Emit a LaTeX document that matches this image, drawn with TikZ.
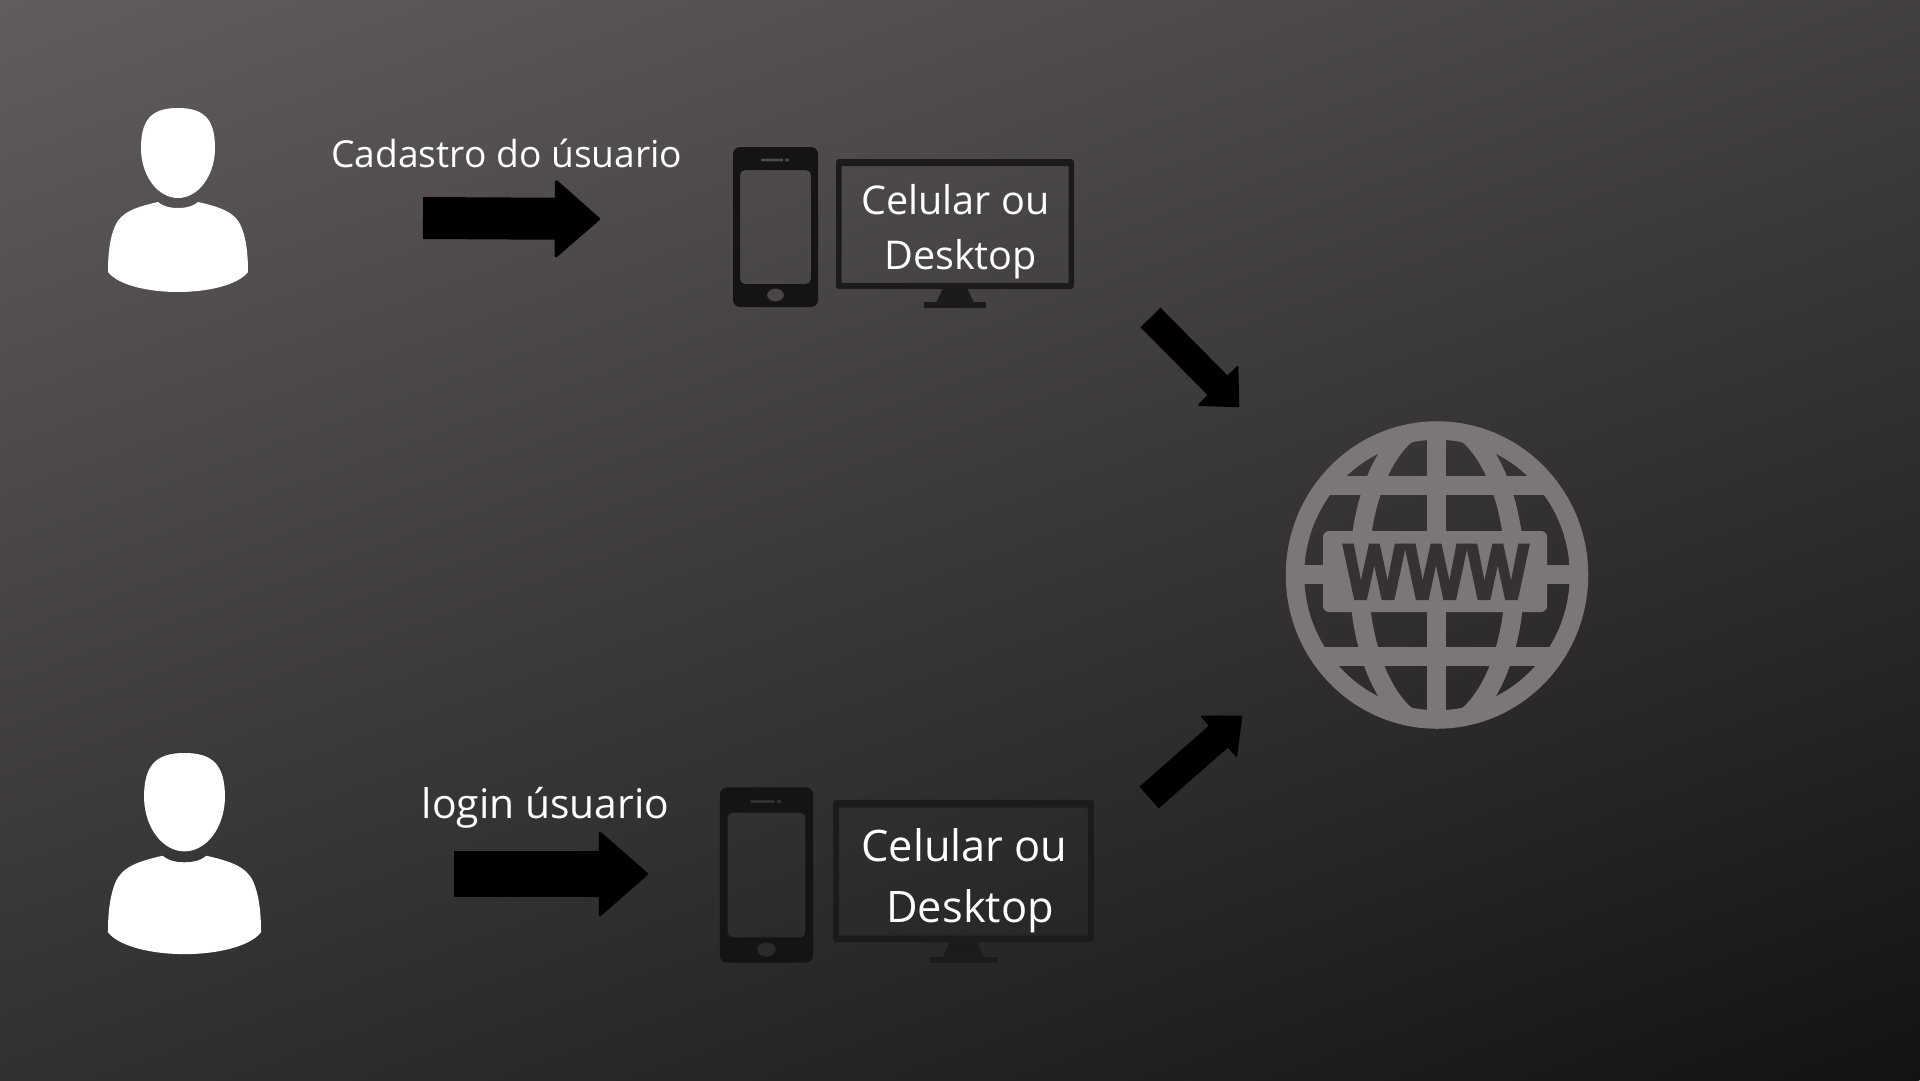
\documentclass[tikz,border=0pt]{standalone}
\usepackage{fontspec}
\setmainfont{Open Sans}
\usetikzlibrary{arrows.meta}
\pgfdeclarelayer{bg}
\pgfsetlayers{bg,main}
\definecolor{bgTop}{HTML}{615D5C}
\definecolor{bgBot}{HTML}{141313}
\definecolor{phoneDark}{HTML}{151313}
\definecolor{screenDark}{HTML}{1C1A1A}
\definecolor{globeGrey}{HTML}{7C7776}
\definecolor{wwwDark}{HTML}{353231}
\tikzset{
	caption/.style={text=white,inner sep=0pt,anchor=base},
	devicetext/.style={caption,align=center},
	bigarrow/.style={draw=black,line join=round},
	person/.pic={
		\fill[white] (-37,40) .. controls (-37,10) and (-25,0) .. (0,0) .. controls (25,0) and (37,10) .. (37,40) .. controls (37,68) and (20,90) .. (0,90) .. controls (-20,90) and (-37,68) .. (-37,40) -- cycle;
		\fill[white] (-20,94) .. controls (-14,99) and (-7,100) .. (0,100) .. controls (7,100) and (14,99) .. (20,94) .. controls (42,99) and (57,104) .. (63,118) .. controls (69,132) and (70,150) .. (70,164) .. controls (60,177) and (30,184) .. (0,184) .. controls (-30,184) and (-60,177) .. (-70,164) .. controls (-70,150) and (-69,132) .. (-63,118) .. controls (-57,104) and (-42,99) .. (-20,94) -- cycle;
	},
	phone/.pic={
		\fill[phoneDark,even odd rule] [rounded corners=7pt] (-42.5,-80) rectangle (42.5,80) [rounded corners=5pt] (-35.5,-57) rectangle (35.5,57) [sharp corners] (0,68) ellipse [x radius=8.5,y radius=6.5] (-14.5,-68.3) rectangle (7.5,-65.7) (9.5,-68.3) rectangle (13.5,-65.7);
	},
	monitor/.pic={
		\fill[screenDark,even odd rule] [rounded corners=3pt] (-119,-74.5) rectangle (119,55.5) [sharp corners] (-113.5,-67.5) rectangle (113.5,49.5);
		\fill[screenDark] (-12.5,55.5) -- (12.5,55.5) -- (18.5,68.5) -- (-18.5,68.5) -- cycle;
		\fill[screenDark] (-31,68.5) rectangle (31,74.5);
	},
}
\begin{document}
\begin{tikzpicture}[x=1pt,y=-1pt]
	\useasboundingbox (0,0) rectangle (1920,1080);
	\begin{pgfonlayer}{bg}
		\clip (0,0) rectangle (1920,1080);
		\shade[top color=bgTop,bottom color=bgBot,transform canvas={rotate around={20:(960,540)}}] (-340,-296) rectangle (2260,1376);
	\end{pgfonlayer}

	\pic (user1) at (178,108) {person};
	\pic (user2) [scale=1.093] at (184.5,753) {person};
	\pic (phone1) at (775.5,227) {phone};
	\pic (phone2) [scale=1.095] at (766.5,875) {phone};
	\pic (screen1) at (955,233.5) {monitor};
	\pic (screen2) [scale=1.095] at (963.5,881.5) {monitor};

	\node (cadastro) [caption,font=\fontsize{37.2}{44}\selectfont] at (506.8,167) {Cadastro do úsuario};
	\node (login) [caption,font=\fontsize{40.8}{49}\selectfont] at (545.5,818) {login úsuario};
	\node (device1) [devicetext,font=\fontsize{39.6}{55}\selectfont] at (955.5,269.5) {Celular ou\\\hspace*{.26em}Desktop};
	\node (device2) [devicetext,font=\fontsize{43.4}{61}\selectfont] at (964.5,922) {Celular ou\\\hspace*{.26em}Desktop};

	\coordinate (a1s) at (423,218);
	\coordinate (a1e) at (600,219);
	\coordinate (a2s) at (453.6,874);
	\coordinate (a2e) at (648,874);
	\coordinate (a3s) at (1150.5,317.5);
	\coordinate (a3e) at (1239,407);
	\coordinate (a4s) at (1149,797.5);
	\coordinate (a4e) at (1242,716);
	\draw[bigarrow,line width=42pt,-{Triangle[length=46pt,width=80pt,line width=3pt,round]}] (a1s) -- (a1e);
	\draw[bigarrow,line width=46pt,-{Triangle[length=50pt,width=87pt,line width=3pt,round]}] (a2s) -- (a2e);
	\draw[bigarrow,line width=28pt,-{Triangle[length=31pt,width=58pt,line width=2pt,round]}] (a3s) -- (a3e);
	\draw[bigarrow,line width=29pt,-{Triangle[length=32pt,width=56pt,line width=2pt,round]}] (a4s) -- (a4e);

	% globe
	\draw[globeGrey,line width=18.5pt] (1437,575) ellipse [x radius=142,y radius=144.5];
	\begin{scope}
		\clip (1437,575) ellipse [x radius=145,y radius=147];
		\draw[globeGrey,line width=19pt] (1280,485) -- (1590,485);
		\draw[globeGrey,line width=19pt] (1280,656) -- (1590,656);
		\draw[globeGrey,line width=19pt] (1280,574) -- (1590,574);
		\draw[globeGrey,line width=19pt] (1436,420) -- (1436,730);
		\draw[globeGrey,line width=19pt] (1437,575) ellipse [x radius=78,y radius=153];
	\end{scope}
	\fill[globeGrey,rounded corners=6pt] (1323,531) rectangle (1547,612);
	\node (www) [text=wwwDark,inner sep=0pt,anchor=base,font=\fontsize{76}{76}\selectfont\bfseries\addfontfeature{FakeBold=3.2}] at (1436,599) {\scalebox{.84}[1]{WWW}};
\end{tikzpicture}
\end{document}
